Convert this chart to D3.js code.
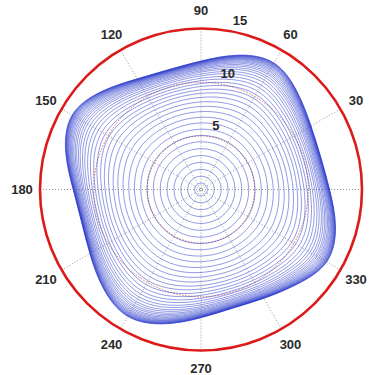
<!DOCTYPE html>
<html>
<head>
<meta charset="utf-8">
<script src="https://cdn.jsdelivr.net/npm/d3@7"></script>
<style>
  html, body { margin: 0; padding: 0; background: #fff; }
  svg { display: block; }
  text { font-family: "Liberation Sans", Arial, sans-serif; }
</style>
</head>
<body>
<div id="chart"></div>
<script>
// ---- data ----
const angleLabels = [30, 60, 90, 120, 150, 180, 210, 240, 270, 300, 330];
const spokeAngles = [0, 30, 60, 90, 120, 150];
const radialTicks = [5, 10, 15];
const gridCircles = [5, 10];
const rMax = 15;

// outer (limit-cycle) boundary of the trajectory, radius at every 15 degrees
const shapeAngles = [0, 15, 30, 45, 60, 75, 90, 105, 120, 135, 150, 165,
                     180, 195, 210, 225, 240, 255, 270, 285, 300, 315, 330, 345];
const limitCycle = [12.1, 11.65, 11.95, 13.0, 14.3, 13.3, 12.1, 11.65, 12.0, 13.3, 14.6, 13.4,
                    12.0, 11.6, 12.1, 13.25, 14.3, 13.3, 12.1, 11.5, 11.85, 12.75, 14.2, 13.35];

// mean radius of each successive turn of the trajectory
const ringLevels = [0.6, 1.25, 1.9, 2.55, 3.2, 3.85, 4.5, 5.1, 5.7, 6.3, 6.85, 7.4, 7.9,
                    8.35, 8.8, 9.2, 9.55, 9.9, 10.2, 10.5, 10.75, 11.0, 11.2, 11.4, 11.55,
                    11.7, 11.82, 11.94, 12.04, 12.13, 12.21, 12.28, 12.34, 12.39, 12.44,
                    12.48, 12.52, 12.55, 12.58, 12.6, 12.62];

// ---- layout ----
const W = 374, H = 375;
const cx = 201, cy = 189.5, R = 161;

const svg = d3.select("#chart").append("svg")
  .attr("width", W).attr("height", H);

const g = svg.append("g").attr("transform", `translate(${cx},${cy})`);

const r = d3.scaleLinear().domain([0, rMax]).range([0, R]);
const toRad = d => d * Math.PI / 180;

// spokes (full diameters)
g.append("g").selectAll("line").data(spokeAngles).join("line")
  .attr("x1", d => -r(rMax) * Math.cos(toRad(d)))
  .attr("y1", d => r(rMax) * Math.sin(toRad(d)))
  .attr("x2", d => r(rMax) * Math.cos(toRad(d)))
  .attr("y2", d => -r(rMax) * Math.sin(toRad(d)))
  .attr("stroke", "#8a8a8a")
  .attr("stroke-width", 0.9)
  .attr("stroke-dasharray", "1,2");

// inner grid circles
g.append("g").selectAll("circle").data(gridCircles).join("circle")
  .attr("r", d => r(d))
  .attr("fill", "none")
  .attr("stroke", "#c8705a")
  .attr("stroke-width", 1)
  .attr("stroke-dasharray", "1.5,1.5");

// trajectory turns
const Rc = d3.mean(limitCycle);
const radial = d3.lineRadial()
  .angle(d => Math.PI / 2 - toRad(d.a))
  .radius(d => r(d.r))
  .curve(d3.curveBasisClosed);

const rings = ringLevels.map(lvl => {
  const s = lvl / Rc;
  const w = Math.pow(s, 3);
  return shapeAngles.map((a, i) => ({ a: a, r: lvl * (1 + (limitCycle[i] / Rc - 1) * w) }));
});

g.append("g").selectAll("path").data(rings).join("path")
  .attr("d", d => radial(d))
  .attr("fill", "none")
  .attr("stroke", "#2434c8")
  .attr("stroke-opacity", 0.66)
  .attr("stroke-width", 0.75);

// outer red circle
g.append("circle")
  .attr("r", r(rMax))
  .attr("fill", "none")
  .attr("stroke", "#dc1a1a")
  .attr("stroke-width", 2.6);

// angle labels
const labR = 179;
g.append("g").selectAll("text").data(angleLabels).join("text")
  .attr("x", d => labR * Math.cos(toRad(d)))
  .attr("y", d => -labR * Math.sin(toRad(d)))
  .attr("text-anchor", "middle")
  .attr("dominant-baseline", "central")
  .attr("font-size", 13)
  .attr("font-weight", "bold")
  .attr("fill", "#2a2a2a")
  .text(d => d);

// radial tick labels
const rlabAngle = 77;
g.append("g").selectAll("text").data(radialTicks).join("text")
  .attr("x", d => (r(d) + 12) * Math.cos(toRad(rlabAngle)))
  .attr("y", d => -(r(d) + 12) * Math.sin(toRad(rlabAngle)))
  .attr("text-anchor", "middle")
  .attr("dominant-baseline", "central")
  .attr("font-size", 13)
  .attr("font-weight", "bold")
  .attr("fill", "#2a2a2a")
  .text(d => d);
</script>
</body>
</html>
